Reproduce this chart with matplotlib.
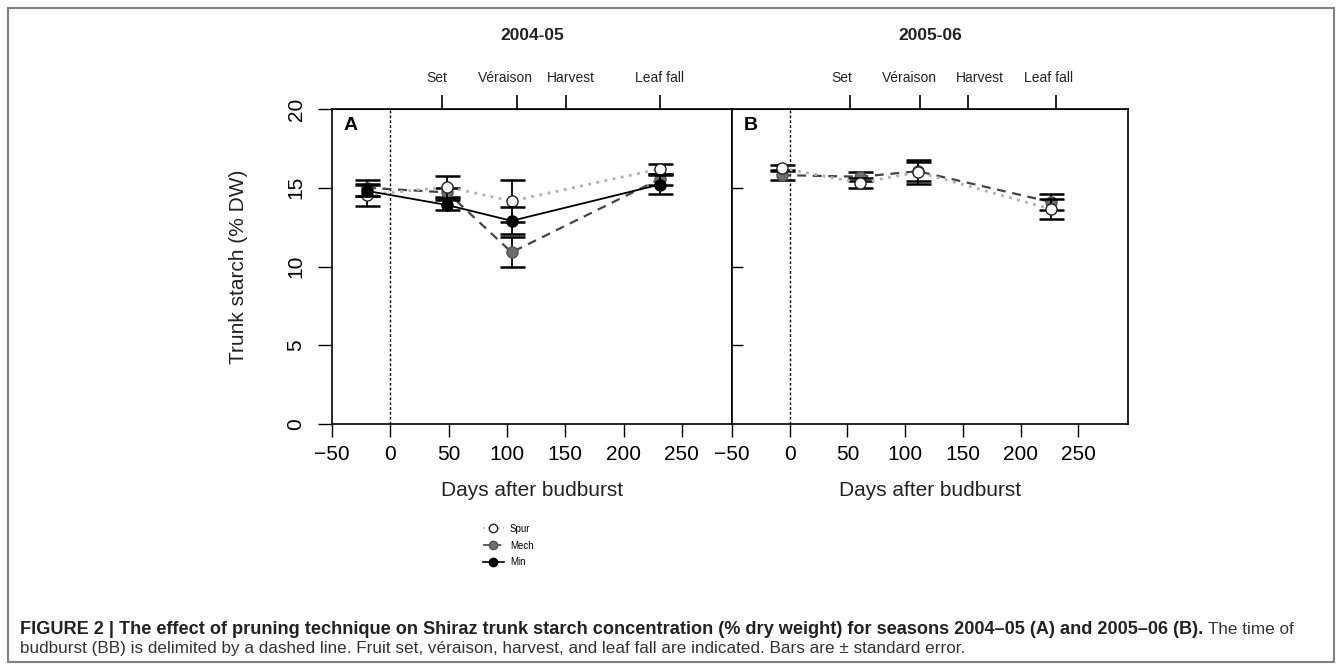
import matplotlib
matplotlib.use('Agg')
import matplotlib.pyplot as plt
from matplotlib.lines import Line2D
from matplotlib.patches import Rectangle

plt.rcParams['font.family'] = ['Liberation Sans', 'DejaVu Sans']

# Season 2004-05 (panel A)
days_a = [-20, 49, 104, 231]
spur_a = [14.55, 15.05, 14.15, 16.2]
spur_a_se = [0.7, 0.7, 1.35, 0.3]
mech_a = [15.0, 14.7, 10.9, 15.55]
mech_a_se = [0.5, 0.3, 0.95, 0.35]
min_a = [14.8, 13.9, 12.9, 15.2]
min_a_se = [0.35, 0.3, 0.85, 0.6]

# Season 2005-06 (panel B)
days_b = [-7, 61, 111, 226]
spur_b = [16.25, 15.3, 16.0, 13.65]
spur_b_se = [0.2, 0.3, 0.75, 0.65]
mech_b = [15.8, 15.7, 16.05, 14.1]
mech_b_se = [0.3, 0.3, 0.6, 0.5]

# phenology events (days after budburst) and where their labels sit
event_labels = ['Set', 'Véraison', 'Harvest', 'Leaf fall']
events_a = [44, 109, 151, 231]
event_label_x_a = [40, 99, 155, 231]
events_b = [52, 113, 154, 231]
event_label_x_b = [45, 104, 165, 224]

seasons = ['2004-05', '2005-06']
panel_letters = ['A', 'B']
xticks = [-50, 0, 50, 100, 150, 200, 250]
yticks = [0, 5, 10, 15, 20]

W, H = 1342, 666
fig = plt.figure(figsize=(W / 100, H / 100), dpi=100)

# outer frame
fig.patches.append(Rectangle((8 / W, 4 / H), 1326 / W, 654 / H, transform=fig.transFigure,
                             fill=False, edgecolor='#808080', lw=1.5))

ax_a = fig.add_axes([332 / W, 1 - 424 / H, 400 / W, 315 / H])
ax_b = fig.add_axes([732 / W, 1 - 424 / H, 396 / W, 315 / H])

spur_style = dict(color='#b0b0b0', ls=(0, (1, 2)), lw=2, marker='o', ms=8,
                  mfc='white', mec='#222222', mew=1)
mech_style = dict(color='#444444', ls=(0, (4, 3)), lw=1.6, marker='o', ms=8,
                  mfc='#6e6e6e', mec='#555555', mew=1)
min_style = dict(color='black', ls='-', lw=1.3, marker='o', ms=8,
                 mfc='black', mec='black', mew=1)
err_kw = dict(ecolor='black', elinewidth=1.3, capsize=9, capthick=1.8)


def draw_series(ax, x, y, se, style, z):
    ax.errorbar(x, y, yerr=se, fmt='none', zorder=z, **err_kw)
    ax.plot(x, y, zorder=z + 1, **style)


draw_series(ax_a, days_a, mech_a, mech_a_se, mech_style, 3)
draw_series(ax_a, days_a, spur_a, spur_a_se, spur_style, 5)
draw_series(ax_a, days_a, min_a, min_a_se, min_style, 7)
draw_series(ax_b, days_b, mech_b, mech_b_se, mech_style, 3)
draw_series(ax_b, days_b, spur_b, spur_b_se, spur_style, 5)

panels = [(ax_a, events_a, event_label_x_a), (ax_b, events_b, event_label_x_b)]
for i, (ax, events, label_x) in enumerate(panels):
    ax.set_xlim(-50, 293)
    ax.set_ylim(0, 20)
    ax.axvline(0, color='black', ls=(0, (2, 1.5)), lw=1)
    ax.set_xticks(xticks)
    ax.set_xticklabels(['\u221250' if t == -50 else str(t) for t in xticks])
    ax.tick_params(axis='x', direction='out', length=9, width=1, labelsize=15, pad=6)
    for sp in ax.spines.values():
        sp.set_linewidth(1.2)
    ax.set_xlabel('Days after budburst', fontsize=15, labelpad=12, color='#222222')
    sec = ax.secondary_xaxis('top')
    sec.set_xticks(events)
    sec.set_xticklabels([])
    sec.tick_params(direction='out', length=10, width=1.2)
    for lx, lab in zip(label_x, event_labels):
        ax.annotate(lab, xy=(lx, 1), xycoords=('data', 'axes fraction'),
                    xytext=(0, 31), textcoords='offset pixels', ha='center',
                    va='center', fontsize=10, color='#222222', annotation_clip=False)
    ax.set_title(seasons[i], fontsize=12.5, fontweight='bold', pad=50, color='#222222')
    ax.text(0.03, 0.975, panel_letters[i], transform=ax.transAxes, fontsize=14,
            fontweight='bold', va='top', ha='left')

ax_a.set_yticks(yticks)
ax_a.set_yticklabels([str(t) for t in yticks], rotation=90, va='center')
ax_a.tick_params(axis='y', direction='out', length=10, width=1, labelsize=15, pad=9)
ax_a.set_ylabel('Trunk starch (% DW)', fontsize=15, labelpad=28, color='#222222')
ax_b.set_yticks(yticks[1:4])
ax_b.tick_params(axis='y', direction='in', length=8, width=1, labelleft=False)

# legend
handles = [Line2D([], [], **spur_style), Line2D([], [], **mech_style),
           Line2D([], [], **min_style)]
for h in handles:
    h.set_markersize(6)
    h.set_linewidth(1.2)
fig.legend(handles, ['Spur', 'Mech', 'Min'], loc='upper left',
           bbox_to_anchor=(474 / W, 1 - 515 / H), frameon=False, fontsize=7,
           handlelength=2.2, labelspacing=0.7, handletextpad=0.6)

# caption
bold_part = ('FIGURE 2 | The effect of pruning technique on Shiraz trunk starch concentration '
             '(% dry weight) for seasons 2004\u201305 (A) and 2005\u201306 (B).')
t1 = fig.text(20 / W, 1 - 629 / H, bold_part, fontsize=13.1, fontweight='bold',
              va='center', ha='left', color='#222222')
fig.canvas.draw()
bb = t1.get_window_extent(renderer=fig.canvas.get_renderer())
fig.text(bb.x1 / W + 5 / W, 1 - 629 / H, 'The time of', fontsize=12.3,
         va='center', ha='left', color='#333333')
fig.text(20 / W, 1 - 649 / H,
         'budburst (BB) is delimited by a dashed line. Fruit set, v\u00e9raison, harvest, '
         'and leaf fall are indicated. Bars are \u00b1 standard error.',
         fontsize=12.3, va='center', ha='left', color='#333333')

fig.savefig('out.png', dpi=100)
